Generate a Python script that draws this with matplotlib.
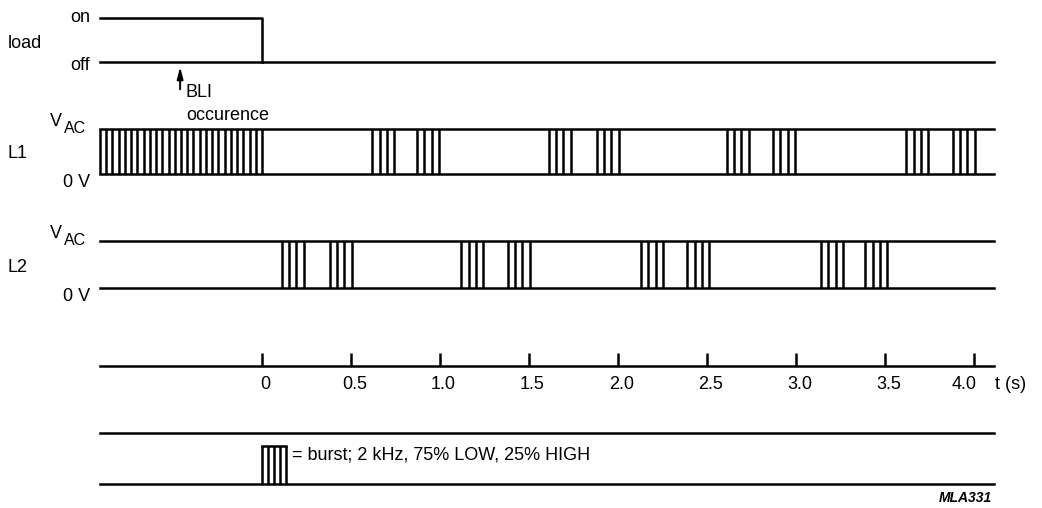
import numpy as np
import matplotlib.pyplot as plt

plt.rcParams['font.family'] = ['Liberation Sans', 'DejaVu Sans']

# time data (seconds)
t_start, t_end = -0.91, 4.11
t_load_off = 0.0          # load switches off
t_bli = -0.46             # BLI occurence
l1_bursts = [0.62, 0.87, 1.61, 1.88, 2.61, 2.87, 3.62, 3.88]
l2_bursts = [0.11, 0.38, 1.12, 1.38, 2.13, 2.39, 3.14, 3.39]
burst_len = 0.124
tick_vals = [0, 0.5, 1.0, 1.5, 2.0, 2.5, 3.0, 3.5, 4.0]
tick_labels = ['0', '0.5', '1.0', '1.5', '2.0', '2.5', '3.0', '3.5', '4.0']

# lane levels (layout, pixel rows from top)
load_on, load_off = 18, 62
l1_hi, l1_lo = 129, 174
l2_hi, l2_lo = 241, 288
axis_y = 366
leg_top, leg_bot = 433, 484

LW = 1.8
FS = 13
fig = plt.figure(figsize=(10.42, 5.08), dpi=100)
ax = fig.add_axes([0, 0, 1, 1])
ax.set_xlim(-262 / 178, 780 / 178)
ax.set_ylim(508, 0)
ax.axis('off')


def burst(t0, hi, lo, n=4):
    xs = np.linspace(t0, t0 + burst_len, n)
    ax.vlines(xs, hi, lo, color='k', lw=LW)


# load trace
ax.plot([t_start, t_load_off, t_load_off], [load_on, load_on, load_off], color='k', lw=LW)
ax.plot([t_start, t_end], [load_off, load_off], color='k', lw=LW)
ax.annotate('', xy=(t_bli, load_off + 2), xytext=(t_bli, 92),
            arrowprops=dict(arrowstyle='-|>,head_length=0.7,head_width=0.18',
                            color='k', lw=1.4))
ax.text(-0.966, 22, 'on', ha='right', va='baseline', fontsize=FS)
ax.text(-1.427, 48, 'load', ha='left', va='baseline', fontsize=FS)
ax.text(-0.966, 70, 'off', ha='right', va='baseline', fontsize=FS)
ax.text(-0.43, 97, 'BLI', ha='left', va='baseline', fontsize=FS)
ax.text(-0.425, 120, 'occurence', ha='left', va='baseline', fontsize=FS)

# L1 and L2 traces
for name, hi, lo, bursts in [('L1', l1_hi, l1_lo, l1_bursts), ('L2', l2_hi, l2_lo, l2_bursts)]:
    ax.plot([t_start, t_end], [hi, hi], color='k', lw=LW)
    ax.plot([t_start, t_end], [lo, lo], color='k', lw=LW)
    for b in bursts:
        burst(b, hi, lo)
    ax.text(-1.19, hi - 3, 'V', ha='left', va='baseline', fontsize=FS)
    ax.text(-1.115, hi + 4, 'AC', ha='left', va='baseline', fontsize=FS - 1.5)
    ax.text(-1.427, (hi + lo) / 2 + 7, name, ha='left', va='baseline', fontsize=FS)
    ax.text(-0.966, lo + 13, '0 V', ha='right', va='baseline', fontsize=FS)

# continuous burst on L1 before the load goes off
ax.vlines(np.linspace(t_start, t_load_off, 27), l1_hi, l1_lo, color='k', lw=LW)

# time axis
ax.plot([t_start, t_end], [axis_y, axis_y], color='k', lw=LW)
ax.vlines(tick_vals, axis_y - 13, axis_y, color='k', lw=LW)
for v, lab in zip(tick_vals, tick_labels):
    x = v - 0.055 if v == tick_vals[-1] else v + 0.02
    ax.text(x, axis_y + 23, lab, ha='center', va='baseline', fontsize=FS)
ax.text(4.12, axis_y + 23, 't (s)', ha='left', va='baseline', fontsize=FS)

# legend strip
ax.plot([t_start, t_end], [leg_top, leg_top], color='k', lw=LW)
ax.plot([t_start, t_end], [leg_bot, leg_bot], color='k', lw=LW)
ax.vlines(np.linspace(0, burst_len + 0.01, 5), 446, leg_bot, color='k', lw=LW)
ax.plot([0, burst_len + 0.01], [446, 446], color='k', lw=LW)
ax.text(0.17, 459, '= burst; 2 kHz, 75% LOW, 25% HIGH', ha='left', va='baseline', fontsize=FS)
ax.text(4.10, 502, 'MLA331', ha='right', va='baseline', fontsize=10,
        style='italic', weight='bold')

fig.savefig('out.png', dpi=100)
